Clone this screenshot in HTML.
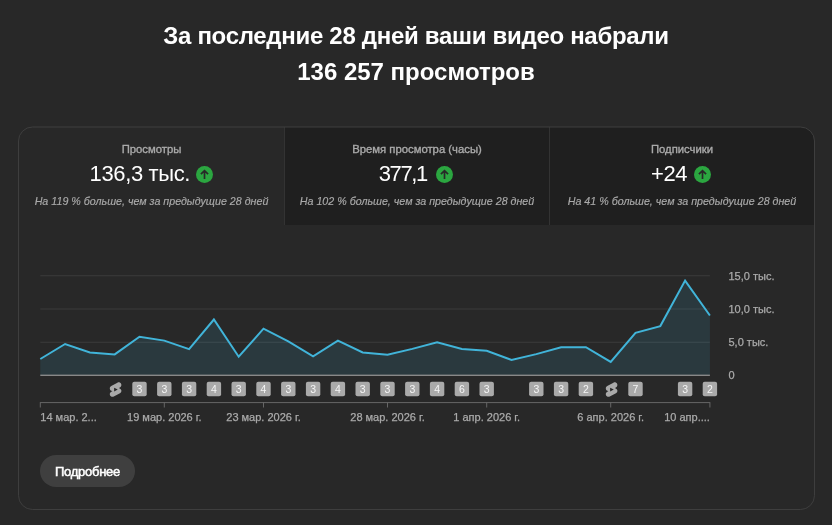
<!DOCTYPE html>
<html lang="ru"><head><meta charset="utf-8"><title>Аналитика канала</title>
<style>
html,body{margin:0;padding:0;background:#282828;}
body{width:832px;height:525px;position:relative;overflow:hidden;font-family:"Liberation Sans",Arial,sans-serif;color:#fff;}
.title{position:absolute;left:0;top:18px;width:832px;text-align:center;font-weight:bold;font-size:24px;line-height:36px;margin:0;}
.title span{display:block;white-space:nowrap;}
.title .l1{letter-spacing:-0.3px;}
.card{position:absolute;left:18px;top:126px;width:795px;height:382px;border:1px solid transparent;border-radius:14px;overflow:hidden;box-sizing:content-box;}
.tab{position:absolute;top:0;height:98px;width:265px;background:#1f1f1f;}
.tab.sel{background:#282828;}
.tab.b{border-left:1px solid #333;box-sizing:border-box;}
.tab div{position:absolute;left:0;width:100%;text-align:center;white-space:nowrap;}
.lab{top:15px;font-size:11.3px;line-height:14px;color:#aaaaaa;-webkit-text-stroke:0.35px #aaaaaa;}
.val{top:33px;font-size:22px;line-height:28px;color:#fff;}
.sub{top:67px;font-size:10.7px;line-height:14px;color:#aaaaaa;font-style:italic;-webkit-text-stroke:0.15px #aaaaaa;}
.ic{display:inline-block;width:17px;height:17px;vertical-align:-2px;margin-left:7px;}
svg.chart{position:absolute;left:0;top:0;width:832px;height:525px;}
.ax{font-size:11px;fill:#aaaaaa;stroke:#aaaaaa;stroke-width:0.25px;font-family:"Liberation Sans",Arial,sans-serif;}
.bt{font-size:10.5px;fill:#fff;fill-opacity:0.88;font-family:"Liberation Sans",Arial,sans-serif;}
.btn{position:absolute;left:40px;top:455px;width:95px;height:32px;border-radius:16px;background:#3f3f3f;color:#fff;font-size:13px;-webkit-text-stroke:0.5px #fff;letter-spacing:-0.25px;line-height:33px;text-align:center;}
</style></head><body>
<h1 class="title"><span class="l1">За последние 28 дней ваши видео набрали</span><span>136 257 просмотров</span></h1>
<div class="card">
<div class="tab sel" style="left:0"><div class="lab">Просмотры</div><div class="val" style="left:-0.2px"><span style="letter-spacing:-0.36px;">136,3 тыс.</span><svg class="ic" style="margin-left:6px" viewBox="0 0 17 17"><circle cx="8.5" cy="8.5" r="8.5" fill="#2ba640"/><path d="M8.5 12.9V4.8M4.9 8.2L8.5 4.6L12.1 8.2" fill="none" stroke="#282828" stroke-width="1.7"/></svg></div><div class="sub">На 119 % больше, чем за предыдущие 28 дней</div></div>
<div class="tab b" style="left:265px"><div class="lab">Время просмотра (часы)</div><div class="val" style="left:-1px"><span style="letter-spacing:-1.4px">377,1</span><svg class="ic" style="margin-left:9.5px" viewBox="0 0 17 17"><circle cx="8.5" cy="8.5" r="8.5" fill="#2ba640"/><path d="M8.5 12.9V4.8M4.9 8.2L8.5 4.6L12.1 8.2" fill="none" stroke="#282828" stroke-width="1.7"/></svg></div><div class="sub">На 102 % больше, чем за предыдущие 28 дней</div></div>
<div class="tab b" style="left:530px"><div class="lab">Подписчики</div><div class="val" style="left:-1px"><span style="letter-spacing:-0.5px">+24</span><svg class="ic" viewBox="0 0 17 17"><circle cx="8.5" cy="8.5" r="8.5" fill="#2ba640"/><path d="M8.5 12.9V4.8M4.9 8.2L8.5 4.6L12.1 8.2" fill="none" stroke="#282828" stroke-width="1.7"/></svg></div><div class="sub">На 41 % больше, чем за предыдущие 28 дней</div></div>
</div>
<svg class="chart" viewBox="0 0 832 525">
<rect x="18.5" y="127" width="796" height="382.5" rx="14" ry="14" fill="none" stroke="#3e3e3e" stroke-width="1"/>
<rect x="40.3" y="275.05" width="669.6" height="1.3" fill="#373737"/><rect x="40.3" y="308.35" width="669.6" height="1.3" fill="#373737"/><rect x="40.3" y="341.65" width="669.6" height="1.3" fill="#373737"/>
<path d="M40.3,375.4 L40.3,359.0 L65.1,344.0 L89.9,352.4 L114.7,354.4 L139.5,336.8 L164.3,340.6 L189.1,349.2 L213.9,319.5 L238.7,356.7 L263.5,328.7 L288.3,341.4 L313.1,356.4 L337.9,340.6 L362.7,352.4 L387.5,354.7 L412.3,348.9 L437.1,342.3 L461.9,348.9 L486.7,350.7 L511.5,359.9 L536.3,354.1 L561.1,347.2 L585.9,347.2 L610.7,361.9 L635.5,332.8 L660.3,326.1 L685.1,280.6 L709.9,315.5 L709.9,375.4 Z" fill="#41b4d9" fill-opacity="0.13"/>
<rect x="40.3" y="374.6" width="669.6" height="1.4" fill="#888888"/>
<polyline points="40.3,359.0 65.1,344.0 89.9,352.4 114.7,354.4 139.5,336.8 164.3,340.6 189.1,349.2 213.9,319.5 238.7,356.7 263.5,328.7 288.3,341.4 313.1,356.4 337.9,340.6 362.7,352.4 387.5,354.7 412.3,348.9 437.1,342.3 461.9,348.9 486.7,350.7 511.5,359.9 536.3,354.1 561.1,347.2 585.9,347.2 610.7,361.9 635.5,332.8 660.3,326.1 685.1,280.6 709.9,315.5" fill="none" stroke="#41b4d9" stroke-width="2" stroke-linejoin="miter"/>
<path transform="translate(106.90,380.90) scale(0.725)" fill="#aaaaaa" fill-rule="evenodd" d="M17.77 10.32l-1.2-.5L18 9.06c1.84-.96 2.53-3.23 1.56-5.06s-3.24-2.53-5.07-1.56L6 6.94c-1.29.68-2.07 2.04-2 3.49.07 1.42.93 2.67 2.22 3.25.03.01 1.2.5 1.2.5L6 14.93c-1.83.97-2.53 3.24-1.56 5.07.97 1.83 3.24 2.53 5.07 1.56l8.5-4.5c1.29-.68 2.06-2.04 1.99-3.49-.07-1.42-.94-2.68-2.23-3.25zM10 14.65v-5.3L15 12l-5 2.65z"/>
<rect x="132.30" y="381.8" width="14.4" height="14.4" rx="2" fill="#aaaaaa"/><text x="139.50" y="392.9" text-anchor="middle" class="bt">3</text>
<rect x="157.10" y="381.8" width="14.4" height="14.4" rx="2" fill="#aaaaaa"/><text x="164.30" y="392.9" text-anchor="middle" class="bt">3</text>
<rect x="181.90" y="381.8" width="14.4" height="14.4" rx="2" fill="#aaaaaa"/><text x="189.10" y="392.9" text-anchor="middle" class="bt">3</text>
<rect x="206.70" y="381.8" width="14.4" height="14.4" rx="2" fill="#aaaaaa"/><text x="213.90" y="392.9" text-anchor="middle" class="bt">4</text>
<rect x="231.50" y="381.8" width="14.4" height="14.4" rx="2" fill="#aaaaaa"/><text x="238.70" y="392.9" text-anchor="middle" class="bt">3</text>
<rect x="256.30" y="381.8" width="14.4" height="14.4" rx="2" fill="#aaaaaa"/><text x="263.50" y="392.9" text-anchor="middle" class="bt">4</text>
<rect x="281.10" y="381.8" width="14.4" height="14.4" rx="2" fill="#aaaaaa"/><text x="288.30" y="392.9" text-anchor="middle" class="bt">3</text>
<rect x="305.90" y="381.8" width="14.4" height="14.4" rx="2" fill="#aaaaaa"/><text x="313.10" y="392.9" text-anchor="middle" class="bt">3</text>
<rect x="330.70" y="381.8" width="14.4" height="14.4" rx="2" fill="#aaaaaa"/><text x="337.90" y="392.9" text-anchor="middle" class="bt">4</text>
<rect x="355.50" y="381.8" width="14.4" height="14.4" rx="2" fill="#aaaaaa"/><text x="362.70" y="392.9" text-anchor="middle" class="bt">3</text>
<rect x="380.30" y="381.8" width="14.4" height="14.4" rx="2" fill="#aaaaaa"/><text x="387.50" y="392.9" text-anchor="middle" class="bt">3</text>
<rect x="405.10" y="381.8" width="14.4" height="14.4" rx="2" fill="#aaaaaa"/><text x="412.30" y="392.9" text-anchor="middle" class="bt">3</text>
<rect x="429.90" y="381.8" width="14.4" height="14.4" rx="2" fill="#aaaaaa"/><text x="437.10" y="392.9" text-anchor="middle" class="bt">4</text>
<rect x="454.70" y="381.8" width="14.4" height="14.4" rx="2" fill="#aaaaaa"/><text x="461.90" y="392.9" text-anchor="middle" class="bt">6</text>
<rect x="479.50" y="381.8" width="14.4" height="14.4" rx="2" fill="#aaaaaa"/><text x="486.70" y="392.9" text-anchor="middle" class="bt">3</text>
<rect x="529.10" y="381.8" width="14.4" height="14.4" rx="2" fill="#aaaaaa"/><text x="536.30" y="392.9" text-anchor="middle" class="bt">3</text>
<rect x="553.90" y="381.8" width="14.4" height="14.4" rx="2" fill="#aaaaaa"/><text x="561.10" y="392.9" text-anchor="middle" class="bt">3</text>
<rect x="578.70" y="381.8" width="14.4" height="14.4" rx="2" fill="#aaaaaa"/><text x="585.90" y="392.9" text-anchor="middle" class="bt">2</text>
<path transform="translate(602.90,380.90) scale(0.725)" fill="#aaaaaa" fill-rule="evenodd" d="M17.77 10.32l-1.2-.5L18 9.06c1.84-.96 2.53-3.23 1.56-5.06s-3.24-2.53-5.07-1.56L6 6.94c-1.29.68-2.07 2.04-2 3.49.07 1.42.93 2.67 2.22 3.25.03.01 1.2.5 1.2.5L6 14.93c-1.83.97-2.53 3.24-1.56 5.07.97 1.83 3.24 2.53 5.07 1.56l8.5-4.5c1.29-.68 2.06-2.04 1.99-3.49-.07-1.42-.94-2.68-2.23-3.25zM10 14.65v-5.3L15 12l-5 2.65z"/>
<rect x="628.30" y="381.8" width="14.4" height="14.4" rx="2" fill="#aaaaaa"/><text x="635.50" y="392.9" text-anchor="middle" class="bt">7</text>
<rect x="677.90" y="381.8" width="14.4" height="14.4" rx="2" fill="#aaaaaa"/><text x="685.10" y="392.9" text-anchor="middle" class="bt">3</text>
<rect x="702.70" y="381.8" width="14.4" height="14.4" rx="2" fill="#aaaaaa"/><text x="709.90" y="392.9" text-anchor="middle" class="bt">2</text>
<rect x="40.3" y="402.1" width="669.6" height="1" fill="#666666"/>
<rect x="39.8" y="402.1" width="1" height="5.4" fill="#666666"/><rect x="163.8" y="402.1" width="1" height="5.4" fill="#666666"/><rect x="263.0" y="402.1" width="1" height="5.4" fill="#666666"/><rect x="387.0" y="402.1" width="1" height="5.4" fill="#666666"/><rect x="486.2" y="402.1" width="1" height="5.4" fill="#666666"/><rect x="610.2" y="402.1" width="1" height="5.4" fill="#666666"/><rect x="709.4" y="402.1" width="1" height="5.4" fill="#666666"/>
<text x="40.3" y="421.4" text-anchor="start" class="ax">14 мар. 2...</text><text x="164.3" y="421.4" text-anchor="middle" class="ax">19 мар. 2026 г.</text><text x="263.5" y="421.4" text-anchor="middle" class="ax">23 мар. 2026 г.</text><text x="387.5" y="421.4" text-anchor="middle" class="ax">28 мар. 2026 г.</text><text x="486.7" y="421.4" text-anchor="middle" class="ax">1 апр. 2026 г.</text><text x="610.7" y="421.4" text-anchor="middle" class="ax">6 апр. 2026 г.</text><text x="709.9" y="421.4" text-anchor="end" class="ax">10 апр....</text>
<text x="728.5" y="279.6" class="ax">15,0 тыс.</text><text x="728.5" y="312.9" class="ax">10,0 тыс.</text><text x="728.5" y="346.2" class="ax">5,0 тыс.</text><text x="728.5" y="379.4" class="ax">0</text>
</svg>
<div class="btn">Подробнее</div>
</body></html>
